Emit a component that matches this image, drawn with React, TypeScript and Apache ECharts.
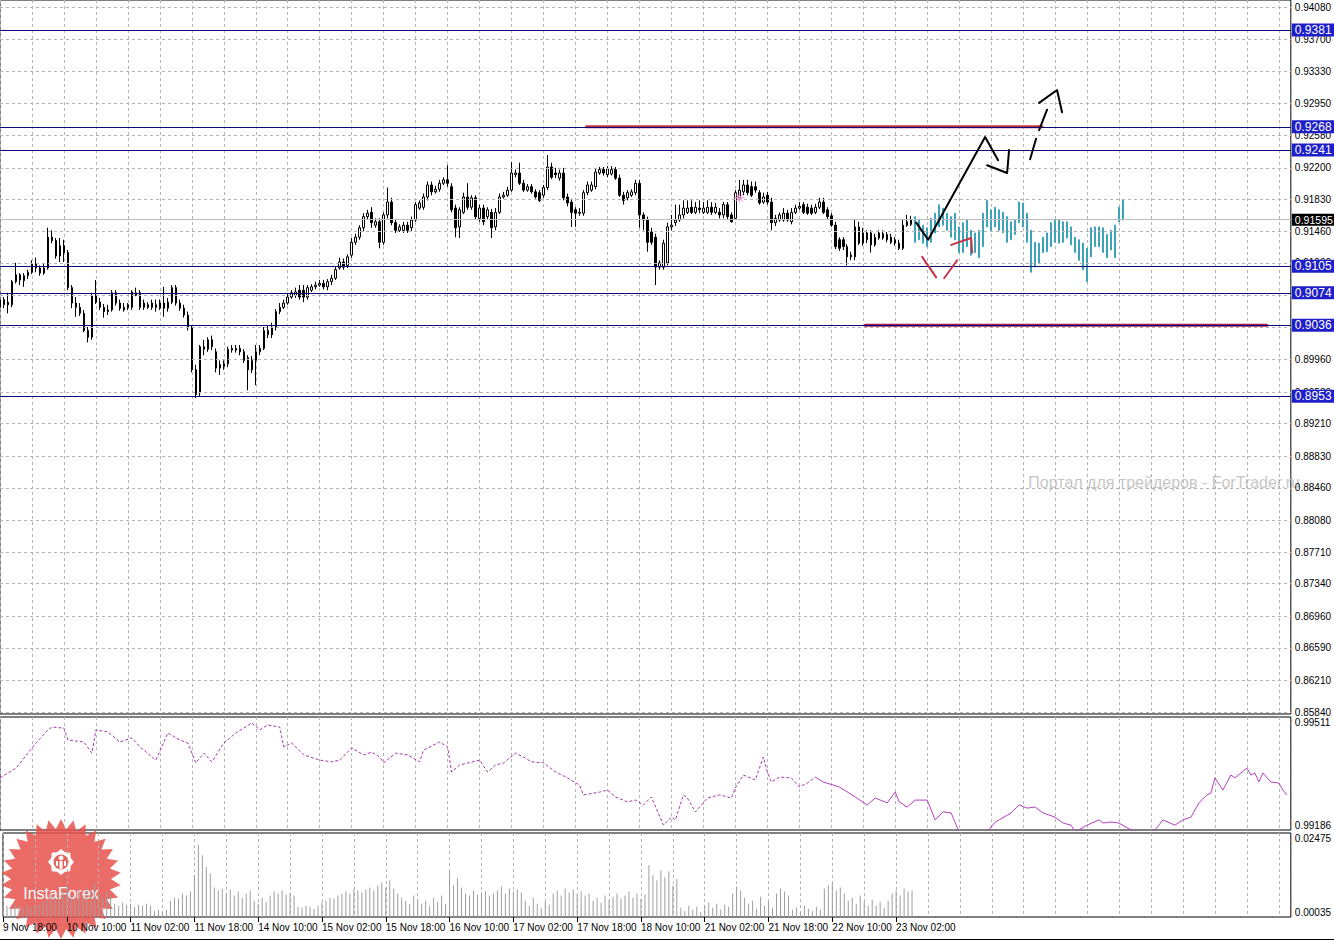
import { useEffect, useRef } from "react";
import * as echarts from "echarts";

const FONT = "'Liberation Sans', Arial, sans-serif";

// ---------- axes ----------
const SLOT_MAX = 323; // hourly slots across the plot width
const X_LABEL_STEP = 16;
const X_GRID_STEP = 8;
const X_LABELS = [
  "9 Nov 18:00", "10 Nov 10:00", "11 Nov 02:00", "11 Nov 18:00", "14 Nov 10:00",
  "15 Nov 02:00", "15 Nov 18:00", "16 Nov 10:00", "17 Nov 02:00", "17 Nov 18:00",
  "18 Nov 10:00", "21 Nov 02:00", "21 Nov 18:00", "22 Nov 10:00", "23 Nov 02:00",
];
const Y_TICKS = [
  0.9408, 0.937, 0.9333, 0.9295, 0.9258, 0.922, 0.9183, 0.9146, 0.9109, 0.9071, 0.9034, 0.8996,
  0.8958, 0.8921, 0.8883, 0.8846, 0.8808, 0.8771, 0.8734, 0.8696, 0.8659, 0.8621, 0.8584,
];
const Y_MIN = 0.85817;
const Y_MAX = 0.94162;

// ---------- levels ----------
const LEVELS = [0.9381, 0.9268, 0.9241, 0.9105, 0.9074, 0.9036, 0.8953];
const LAST_PRICE = 0.91595;

// ---------- candles: [open, high, low, close] ----------
const OHLC: number[][] = [
  [0.9057, 0.9077, 0.9046, 0.9066], [0.906, 0.9069, 0.9056, 0.9066], [0.9063, 0.9074, 0.905, 0.906], [0.906, 0.9089, 0.9057, 0.9087],
  [0.9087, 0.9109, 0.9085, 0.9095], [0.9095, 0.9097, 0.9083, 0.9089], [0.9088, 0.9097, 0.9081, 0.9094], [0.9094, 0.9101, 0.909, 0.9098],
  [0.9098, 0.9112, 0.9096, 0.9108], [0.9108, 0.9115, 0.9098, 0.9103], [0.9103, 0.9106, 0.9094, 0.9097], [0.9097, 0.9108, 0.9095, 0.9103],
  [0.9103, 0.915, 0.9101, 0.9139], [0.9139, 0.9147, 0.9132, 0.9135], [0.9135, 0.9138, 0.9114, 0.9117], [0.9117, 0.9138, 0.911, 0.9129],
  [0.9129, 0.9136, 0.911, 0.9121], [0.9121, 0.9124, 0.9077, 0.908], [0.908, 0.9083, 0.9056, 0.9062], [0.9062, 0.9069, 0.9046, 0.9057],
  [0.9057, 0.9062, 0.9047, 0.905], [0.905, 0.9054, 0.9028, 0.903], [0.903, 0.9034, 0.9016, 0.9022], [0.9022, 0.9074, 0.9019, 0.9071],
  [0.9071, 0.9089, 0.9061, 0.9063], [0.9063, 0.9068, 0.9054, 0.9057], [0.9057, 0.9061, 0.9045, 0.9052], [0.9052, 0.906, 0.9048, 0.9054],
  [0.9054, 0.9077, 0.9052, 0.9074], [0.9074, 0.9077, 0.9059, 0.9062], [0.9062, 0.9066, 0.9053, 0.9056], [0.9054, 0.9062, 0.9052, 0.9057],
  [0.906, 0.9062, 0.9054, 0.9057], [0.9057, 0.9077, 0.9054, 0.9075], [0.9071, 0.908, 0.907, 0.9074], [0.9074, 0.9077, 0.9054, 0.9057],
  [0.9062, 0.9066, 0.9054, 0.9057], [0.9057, 0.9063, 0.9055, 0.906], [0.9062, 0.9066, 0.9054, 0.9057], [0.906, 0.9066, 0.9052, 0.9057],
  [0.9056, 0.9066, 0.9054, 0.9062], [0.9062, 0.9081, 0.9046, 0.9056], [0.9056, 0.9068, 0.9052, 0.9063], [0.9063, 0.9083, 0.9061, 0.908],
  [0.908, 0.9083, 0.9059, 0.9062], [0.9062, 0.9066, 0.9053, 0.9056], [0.9056, 0.906, 0.9045, 0.9048], [0.9048, 0.9052, 0.903, 0.9033],
  [0.9033, 0.9036, 0.8981, 0.8984], [0.8984, 0.899, 0.8951, 0.8955], [0.8957, 0.9013, 0.8953, 0.9011], [0.9011, 0.9019, 0.9001, 0.9008],
  [0.9008, 0.9022, 0.9005, 0.9019], [0.9019, 0.9024, 0.9007, 0.9011], [0.9005, 0.9009, 0.8981, 0.8986], [0.899, 0.8995, 0.8978, 0.8986],
  [0.8988, 0.8995, 0.8984, 0.8991], [0.8991, 0.9011, 0.8987, 0.9008], [0.9009, 0.9013, 0.9004, 0.9007], [0.9007, 0.9013, 0.9004, 0.9009],
  [0.9009, 0.9013, 0.9001, 0.9005], [0.9005, 0.9008, 0.8992, 0.8995], [0.8998, 0.9001, 0.896, 0.8984], [0.8984, 0.9, 0.898, 0.8995],
  [0.8995, 0.9013, 0.8966, 0.9005], [0.9005, 0.9013, 0.9001, 0.9009], [0.9009, 0.9034, 0.9007, 0.903], [0.9025, 0.9035, 0.9021, 0.903],
  [0.9034, 0.9039, 0.9021, 0.9025], [0.9034, 0.9055, 0.903, 0.9052], [0.9052, 0.9062, 0.9049, 0.9057], [0.9057, 0.9066, 0.9055, 0.9062],
  [0.9062, 0.9074, 0.906, 0.9069], [0.9069, 0.9077, 0.9067, 0.9074], [0.9071, 0.908, 0.9068, 0.9075], [0.9077, 0.9083, 0.9066, 0.9069],
  [0.9077, 0.9083, 0.9063, 0.9069], [0.9069, 0.9083, 0.9066, 0.908], [0.9077, 0.9084, 0.9075, 0.9081], [0.9081, 0.9087, 0.9078, 0.9083],
  [0.9083, 0.9089, 0.9081, 0.9085], [0.9085, 0.9089, 0.9078, 0.9081], [0.9081, 0.909, 0.9077, 0.9087], [0.9087, 0.9095, 0.9083, 0.9091],
  [0.9091, 0.9104, 0.9089, 0.9101], [0.9103, 0.9115, 0.9101, 0.911], [0.911, 0.9114, 0.9101, 0.9104], [0.9106, 0.9119, 0.9103, 0.9116],
  [0.9118, 0.9138, 0.9115, 0.9133], [0.9133, 0.9143, 0.913, 0.9139], [0.9139, 0.9153, 0.9136, 0.915], [0.915, 0.9167, 0.9146, 0.9163],
  [0.9163, 0.9171, 0.9159, 0.9167], [0.9168, 0.9174, 0.915, 0.9156], [0.9153, 0.9161, 0.915, 0.9157], [0.9157, 0.9161, 0.9126, 0.9133],
  [0.9133, 0.9168, 0.913, 0.9165], [0.9165, 0.9197, 0.9161, 0.918], [0.918, 0.9185, 0.9153, 0.9156], [0.9156, 0.9159, 0.9144, 0.9147],
  [0.9147, 0.9154, 0.9145, 0.9151], [0.9147, 0.9157, 0.9144, 0.9153], [0.9153, 0.9157, 0.9144, 0.9147], [0.915, 0.9163, 0.9146, 0.9159],
  [0.9159, 0.918, 0.9157, 0.9177], [0.9173, 0.9182, 0.9171, 0.9179], [0.9174, 0.919, 0.9171, 0.9186], [0.9186, 0.9204, 0.9182, 0.92],
  [0.92, 0.9204, 0.9188, 0.9192], [0.9192, 0.9199, 0.919, 0.9195], [0.9195, 0.9206, 0.9192, 0.9202], [0.9202, 0.9209, 0.92, 0.9206],
  [0.9206, 0.9223, 0.9198, 0.9202], [0.9198, 0.9202, 0.9168, 0.9171], [0.9173, 0.9177, 0.9139, 0.915], [0.9151, 0.9174, 0.9138, 0.9171],
  [0.9168, 0.9191, 0.9166, 0.9186], [0.9186, 0.9202, 0.9171, 0.9174], [0.9174, 0.9188, 0.9171, 0.9185], [0.9185, 0.9188, 0.9159, 0.9163],
  [0.9161, 0.9177, 0.9157, 0.9173], [0.9173, 0.9177, 0.9153, 0.9157], [0.9163, 0.9174, 0.9159, 0.9171], [0.9168, 0.9172, 0.9138, 0.915],
  [0.9151, 0.9173, 0.9147, 0.9168], [0.9168, 0.919, 0.9166, 0.9186], [0.9186, 0.9192, 0.9184, 0.9188], [0.9188, 0.9198, 0.9186, 0.9194],
  [0.9194, 0.9227, 0.9192, 0.9214], [0.9212, 0.9218, 0.9209, 0.9214], [0.9214, 0.9226, 0.92, 0.9202], [0.9202, 0.9206, 0.9192, 0.9194],
  [0.9194, 0.9201, 0.9192, 0.9198], [0.9198, 0.9201, 0.919, 0.9192], [0.9192, 0.9195, 0.9184, 0.9186], [0.9191, 0.9194, 0.918, 0.9182],
  [0.9188, 0.92, 0.9185, 0.9197], [0.9197, 0.9235, 0.9194, 0.9221], [0.9221, 0.9226, 0.9207, 0.9209], [0.9214, 0.922, 0.9208, 0.9212],
  [0.9208, 0.9218, 0.9205, 0.9214], [0.9214, 0.922, 0.9182, 0.9185], [0.9186, 0.919, 0.9175, 0.9179], [0.918, 0.9184, 0.9151, 0.9168],
  [0.9171, 0.9174, 0.9151, 0.9167], [0.9167, 0.9173, 0.9164, 0.9168], [0.9167, 0.9194, 0.9164, 0.9191], [0.9191, 0.9204, 0.9188, 0.92],
  [0.9194, 0.9204, 0.9192, 0.92], [0.9198, 0.9219, 0.9195, 0.9215], [0.9214, 0.9221, 0.9212, 0.9218], [0.9218, 0.9221, 0.9211, 0.9214],
  [0.9212, 0.9222, 0.9209, 0.9219], [0.9213, 0.9222, 0.9211, 0.9218], [0.9218, 0.9221, 0.9206, 0.9208], [0.9208, 0.9212, 0.9186, 0.9188],
  [0.9188, 0.9192, 0.9177, 0.9182], [0.9185, 0.9194, 0.9182, 0.9191], [0.9188, 0.9195, 0.9186, 0.9192], [0.9191, 0.9206, 0.9188, 0.9202],
  [0.9202, 0.9206, 0.915, 0.9165], [0.9165, 0.9168, 0.9147, 0.9159], [0.9159, 0.9163, 0.9122, 0.9133], [0.9145, 0.915, 0.913, 0.9133],
  [0.9139, 0.9143, 0.9083, 0.9104], [0.9104, 0.9112, 0.9101, 0.9109], [0.9104, 0.9136, 0.9101, 0.9132], [0.9109, 0.9156, 0.9106, 0.9151],
  [0.9151, 0.9165, 0.9147, 0.9153], [0.9156, 0.9177, 0.9152, 0.9159], [0.9159, 0.9177, 0.9157, 0.9165], [0.9165, 0.9182, 0.9161, 0.9173],
  [0.9168, 0.9182, 0.9166, 0.9173], [0.9174, 0.9182, 0.9166, 0.9168], [0.9168, 0.918, 0.9166, 0.9174], [0.9173, 0.9182, 0.9167, 0.9171],
  [0.9168, 0.918, 0.9166, 0.9173], [0.9168, 0.9182, 0.9166, 0.9174], [0.9174, 0.918, 0.9165, 0.9168], [0.9168, 0.9179, 0.9166, 0.9174],
  [0.9168, 0.9173, 0.9161, 0.9165], [0.9165, 0.918, 0.9161, 0.9177], [0.9177, 0.918, 0.9159, 0.9163], [0.9165, 0.9168, 0.9156, 0.9157],
  [0.9161, 0.9194, 0.9159, 0.9191], [0.9185, 0.9206, 0.9182, 0.9194], [0.9192, 0.9206, 0.9188, 0.92], [0.92, 0.9206, 0.9188, 0.9191],
  [0.9198, 0.9204, 0.9186, 0.9188], [0.9198, 0.9204, 0.9191, 0.9194], [0.9191, 0.9194, 0.9177, 0.9179], [0.918, 0.9191, 0.9178, 0.9186],
  [0.9188, 0.9192, 0.9177, 0.918], [0.918, 0.9185, 0.9147, 0.9156], [0.9156, 0.9165, 0.9152, 0.9161], [0.9159, 0.9168, 0.9157, 0.9165],
  [0.9159, 0.9173, 0.9157, 0.9167], [0.9167, 0.9171, 0.9157, 0.9159], [0.9157, 0.9173, 0.9154, 0.9168], [0.9168, 0.9177, 0.9166, 0.9173],
  [0.9173, 0.918, 0.9171, 0.9175], [0.9177, 0.918, 0.9166, 0.9168], [0.9174, 0.9178, 0.9165, 0.9167], [0.9173, 0.9177, 0.9165, 0.9167],
  [0.9168, 0.9178, 0.9166, 0.9174], [0.9174, 0.9185, 0.9172, 0.918], [0.918, 0.9185, 0.9166, 0.9168], [0.9171, 0.9174, 0.916, 0.9163],
  [0.9164, 0.9167, 0.9151, 0.9153], [0.9153, 0.9157, 0.9125, 0.9128], [0.9136, 0.9139, 0.9123, 0.9126], [0.9136, 0.9139, 0.9124, 0.9128],
  [0.9128, 0.9131, 0.9106, 0.9116], [0.9118, 0.9122, 0.9112, 0.9116], [0.9116, 0.9159, 0.9112, 0.9151], [0.9151, 0.9157, 0.913, 0.9132],
  [0.9132, 0.915, 0.9129, 0.9144], [0.9144, 0.9147, 0.9132, 0.9136], [0.9144, 0.9147, 0.9121, 0.913], [0.913, 0.9143, 0.9128, 0.9139],
  [0.9138, 0.9147, 0.9136, 0.9144], [0.9138, 0.9147, 0.9136, 0.9143], [0.9142, 0.9145, 0.9133, 0.9136], [0.9139, 0.9143, 0.9131, 0.9133],
  [0.9136, 0.9139, 0.9129, 0.9132], [0.9132, 0.9136, 0.9124, 0.9126], [0.9126, 0.9159, 0.9124, 0.9153], [0.9153, 0.9165, 0.9151, 0.9157],
  [0.9154, 0.9164, 0.9152, 0.91595],
];

// ---------- forecast bars (teal): [high, low] ----------
const FORECAST_START = 229;
const FORECAST_HL: number[][] = [
  [0.9163, 0.9133], [0.9159, 0.9136], [0.9153, 0.9132], [0.915, 0.9128], [0.9161, 0.9133], [0.9167, 0.9144], [0.9177, 0.9151],
  [0.9173, 0.9153], [0.9167, 0.9147], [0.9163, 0.9139], [0.9167, 0.9136], [0.9151, 0.9121], [0.9156, 0.9121], [0.9159, 0.9128],
  [0.9147, 0.9118], [0.9144, 0.9121], [0.9147, 0.9115], [0.9167, 0.9128], [0.9182, 0.9151], [0.9171, 0.9147], [0.9174, 0.9151],
  [0.9171, 0.9147], [0.9168, 0.9144], [0.9163, 0.9133], [0.9157, 0.9136], [0.9159, 0.9142], [0.918, 0.9156], [0.9179, 0.9151],
  [0.9167, 0.9133], [0.9147, 0.9098], [0.9133, 0.9104], [0.9132, 0.9109], [0.9139, 0.9121], [0.9144, 0.9122], [0.9156, 0.9128],
  [0.916, 0.9133], [0.9159, 0.9132], [0.9157, 0.9133], [0.9157, 0.9138], [0.9151, 0.913], [0.9139, 0.9121], [0.9136, 0.9112],
  [0.9132, 0.9101], [0.9126, 0.9087], [0.915, 0.9116], [0.9151, 0.9128], [0.9151, 0.9128], [0.915, 0.9121], [0.9142, 0.9115],
  [0.9147, 0.9124], [0.9153, 0.9115], [0.9174, 0.9157], [0.9182, 0.9159],
];

// ---------- hand-drawn annotations: [slot, price] ----------
const RED_TOP = [[146.75, 0.9268], [260.75, 0.9268]];
const RED_BOTTOM = [[216.5, 0.9036], [317, 0.9036]];
const BLACK_STROKES = [
  [[229.25, 0.9156], [232.25, 0.9136], [246.5, 0.9256], [249.75, 0.9229]],
  [[247, 0.9223], [252, 0.9214], [252.5, 0.9241]],
  [[257.75, 0.923], [259.25, 0.9254]],
  [[260, 0.9264], [262, 0.9288]],
  [[260, 0.9296], [264.5, 0.9311], [265.75, 0.9285]],
];
const RED_STROKES = [
  [[230.75, 0.9116], [234.25, 0.9092]],
  [[236.25, 0.9091], [239.5, 0.9112]],
  [[238, 0.913], [243, 0.9138], [243.25, 0.9121]],
];
const STAR_POINT = [185, 0.9185];

// ---------- indicator pane ----------
const IND_MIN = 0.99186;
const IND_MAX = 0.99511;
const IND_DOTTED_END = 204;
const INDICATOR: number[][] = [
  [0, 0.99336], [4, 0.99364], [7, 0.99407], [9, 0.99436], [12, 0.99474], [13, 0.99482], [16, 0.99479], [17, 0.99445],
  [21, 0.99439], [23, 0.99407], [24, 0.99474], [27, 0.99468], [30, 0.99439], [33, 0.99451], [35, 0.99425], [39, 0.99387],
  [42, 0.99465], [45, 0.99445], [47, 0.99436], [49, 0.99379], [51, 0.99407], [53, 0.99382], [56, 0.99436], [59, 0.99465],
  [63, 0.99494], [65, 0.99474], [67, 0.99488], [70, 0.99482], [71, 0.99425], [73, 0.99436], [76, 0.99402], [80, 0.99387],
  [83, 0.99382], [85, 0.99387], [88, 0.99422], [91, 0.99402], [93, 0.9941], [95, 0.99396], [96, 0.99379], [99, 0.99407],
  [102, 0.99402], [105, 0.99382], [106, 0.99416], [110, 0.99439], [112, 0.99425], [113, 0.99353], [115, 0.99373], [120, 0.99387],
  [122, 0.99353], [124, 0.99373], [126, 0.99379], [129, 0.99407], [131, 0.99396], [133, 0.99382], [136, 0.99379], [139, 0.99353],
  [142, 0.99336], [145, 0.99315], [146, 0.99287], [150, 0.99295], [152, 0.99301], [154, 0.99281], [157, 0.99267], [159, 0.99272],
  [161, 0.99258], [163, 0.99281], [166, 0.992], [168, 0.99223], [169, 0.99215], [171, 0.99287], [172, 0.99278], [174, 0.99238],
  [177, 0.99278], [180, 0.99287], [183, 0.99278], [184, 0.99307], [186, 0.99344], [189, 0.9933], [191, 0.99396], [192, 0.99353],
  [193, 0.99324], [195, 0.99338], [198, 0.99336], [200, 0.9931], [202, 0.99321], [204, 0.99338], [206, 0.99324], [210, 0.9931],
  [214, 0.99281], [217, 0.99258], [219, 0.99278], [222, 0.99264], [224, 0.99295], [225, 0.99267], [227, 0.99252], [229, 0.99272],
  [232, 0.99272], [234, 0.99215], [236, 0.99238], [238, 0.99235], [240, 0.9918], [243, 0.99169], [247, 0.9918], [249, 0.99209],
  [250, 0.99215], [253, 0.99235], [255, 0.99258], [257, 0.99249], [259, 0.99252], [261, 0.99235], [264, 0.99223], [266, 0.99206],
  [268, 0.992], [269, 0.9918], [272, 0.992], [275, 0.99215], [276, 0.99206], [278, 0.99209], [280, 0.99206], [283, 0.99186],
  [287, 0.9918], [289, 0.99186], [291, 0.99215], [294, 0.992], [296, 0.99215], [298, 0.99223], [300, 0.99264], [302, 0.99287],
  [303, 0.99292], [304, 0.99336], [306, 0.99301], [308, 0.99344], [309, 0.99336], [312, 0.99364], [313, 0.99344], [314, 0.9935],
  [315, 0.99324], [316, 0.9935], [318, 0.99324], [320, 0.99321], [321, 0.99301], [322, 0.99287],
];

// ---------- volume pane ----------
const VOL_MIN = 0;
const VOL_MAX = 0.02475;
const VOL_LABELS = ["0.02475", "0.00035"];
const VOLUME = [
  0.0027, 0.0033, 0.003, 0.0039, 0.0033, 0.0027, 0.0036, 0.003, 0.0033, 0.0039,
  0.0045, 0.0051, 0.0069, 0.0057, 0.0063, 0.0078, 0.0093, 0.0069, 0.0057, 0.0081, 0.0063, 0.0087, 0.0075, 0.0099, 0.0069, 0.0057, 0.0078, 0.0063,
  0.0039, 0.0033, 0.0042, 0.0036, 0.0039, 0.003, 0.0036, 0.0033, 0.0039, 0.0033,
  0.0018, 0.0021, 0.0015, 0.0021,
  0.0048, 0.0057, 0.0054, 0.0069, 0.0063, 0.0075,
  0.0123, 0.0212, 0.0182, 0.0147, 0.0129,
  0.0087, 0.0078, 0.0084, 0.0069, 0.0081,
  0.0063, 0.0075, 0.0057, 0.0069, 0.0078,
  0.0048, 0.0039, 0.0057, 0.0045,
  0.0063, 0.0075, 0.0069, 0.0078, 0.0066, 0.0072, 0.0063,
  0.003, 0.0027, 0.0033, 0.003, 0.0024, 0.0033,
  0.0042, 0.0048, 0.0057, 0.0054, 0.0063, 0.0069,
  0.0075, 0.0069, 0.0081, 0.0078, 0.0072,
  0.0081, 0.0087, 0.0078, 0.0093, 0.0102, 0.0087, 0.0108,
  0.0084, 0.0069, 0.0057, 0.0048, 0.0039, 0.0063, 0.0051,
  0.0039, 0.0048, 0.0033, 0.0057, 0.0045, 0.0063, 0.0039,
  0.0135, 0.0093, 0.0114, 0.0087,
  0.0069, 0.0063, 0.0078, 0.0066, 0.0072, 0.0075, 0.0063, 0.0069,
  0.0078, 0.009, 0.0069, 0.0084, 0.0075, 0.0081, 0.0072,
  0.0048, 0.0033, 0.0057, 0.0039, 0.0027, 0.0045, 0.0036,
  0.0069, 0.0078, 0.0063, 0.0084, 0.0072, 0.0081, 0.0066, 0.0075, 0.0063, 0.0069,
  0.0048, 0.0057, 0.0042, 0.0063, 0.0051, 0.006, 0.0069, 0.0054,
  0.0063, 0.0075, 0.0057, 0.0069, 0.0054, 0.0066,
  0.0153, 0.0123, 0.0108, 0.0138, 0.0117,
  0.0135, 0.0093, 0.0111,
  0.0027, 0.0018, 0.0033, 0.0021, 0.003, 0.0015,
  0.0033, 0.0042, 0.0027, 0.0039, 0.0021, 0.0036, 0.003,
  0.0069, 0.009, 0.0078, 0.0057,
  0.0039, 0.0048, 0.0024, 0.006, 0.0033, 0.0045, 0.0027,
  0.0069, 0.0084, 0.0075, 0.0063,
  0.0021, 0.0027, 0.0015, 0.0033, 0.0024, 0.0018, 0.003, 0.0021,
  0.0084, 0.0093, 0.0099, 0.0078, 0.0087, 0.0069,
  0.0048, 0.0057, 0.0039, 0.0063, 0.0045, 0.0033, 0.0051,
  0.0033, 0.0045, 0.0027, 0.0048,
  0.0069, 0.0078, 0.0063, 0.0084, 0.0075, 0.0078,
];

const WATERMARK = "Портал для трейдеров - ForTrader.ru";
const LOGO_TEXT = "InstaForex";

function starPoints(cx: number, cy: number, rOut: number, rIn: number, n: number) {
  const pts: number[][] = [];
  for (let i = 0; i < n * 2; i++) {
    const r = i % 2 === 0 ? rOut : rIn;
    const a = (Math.PI * i) / n - Math.PI / 2;
    pts.push([cx + r * Math.cos(a), cy + r * Math.sin(a)]);
  }
  return pts;
}

function buildOption(): any {
  const gridDash = { color: "#b4b4b4", type: [3, 3] as any, width: 1 };
  const xCommon = {
    type: "value",
    min: 0,
    max: SLOT_MAX,
    interval: X_GRID_STEP,
    axisLine: { show: false },
    axisTick: { show: false },
    axisLabel: { show: false },
    splitLine: { show: true, lineStyle: gridDash },
  };
  const xLabelValues = X_LABELS.map((_, i) => i * X_LABEL_STEP);
  const lineSeries = (data: number[][], color: string, width: number, z = 5) => ({
    type: "line",
    xAxisIndex: 0,
    yAxisIndex: 0,
    data,
    symbol: "none",
    silent: true,
    z,
    lineStyle: { color, width, cap: "round", join: "round" },
  });
  const idxSplit = INDICATOR.findIndex((p) => p[0] === IND_DOTTED_END);

  const sideLabel = (text: string, bg: string, size: number) => ({
    show: true,
    position: "end",
    distance: 1,
    formatter: text,
    color: "#fff",
    backgroundColor: bg,
    padding: [1, 3, 0, 3],
    fontSize: size,
    fontFamily: FONT,
  });

  const logoCx = 61;
  const logoCy = 879;

  return {
    animation: false,
    backgroundColor: "#ffffff",
    textStyle: { fontFamily: FONT },
    grid: [
      { left: 0, top: 0, width: 1292, height: 714, show: true, borderColor: "#000", borderWidth: 1 },
      { left: 0, top: 717, width: 1292, height: 113, show: true, borderColor: "#000", borderWidth: 1 },
      { left: 0, top: 833, width: 1292, height: 84, show: true, borderColor: "#000", borderWidth: 1 },
    ],
    xAxis: [
      { ...xCommon, gridIndex: 0 },
      { ...xCommon, gridIndex: 1 },
      { ...xCommon, gridIndex: 2 },
      {
        type: "value",
        gridIndex: 2,
        min: 0,
        max: SLOT_MAX,
        position: "bottom",
        axisLine: { show: false },
        splitLine: { show: false },
        axisTick: { show: true, customValues: xLabelValues, length: 5, lineStyle: { color: "#000" } },
        axisLabel: {
          show: true,
          customValues: xLabelValues,
          formatter: (v: number) => X_LABELS[Math.round(v / X_LABEL_STEP)] ?? "",
          align: "left",
          margin: 5,
          fontSize: 10,
          color: "#000",
          fontFamily: FONT,
        },
      },
    ],
    yAxis: [
      {
        type: "value",
        gridIndex: 0,
        position: "right",
        min: Y_MIN,
        max: Y_MAX,
        axisLine: { show: false },
        splitLine: { show: false },
        axisTick: { show: true, customValues: Y_TICKS, length: 3, lineStyle: { color: "#000" } },
        axisLabel: {
          customValues: Y_TICKS,
          formatter: (v: number) => v.toFixed(5),
          margin: 4,
          fontSize: 10,
          color: "#000",
          fontFamily: FONT,
        },
      },
      {
        type: "value", gridIndex: 1, position: "right", min: IND_MIN, max: IND_MAX,
        axisLine: { show: false }, axisTick: { show: false }, splitLine: { show: false },
        axisLabel: { customValues: [IND_MAX], formatter: (v: number) => v.toFixed(5), verticalAlign: "top", margin: 4, fontSize: 10, color: "#000", fontFamily: FONT },
      },
      {
        type: "value", gridIndex: 1, position: "right", min: IND_MIN, max: IND_MAX,
        axisLine: { show: false }, axisTick: { show: false }, splitLine: { show: false },
        axisLabel: { customValues: [IND_MIN], formatter: (v: number) => v.toFixed(5), verticalAlign: "bottom", margin: 4, fontSize: 10, color: "#000", fontFamily: FONT },
      },
      {
        type: "value", gridIndex: 2, position: "right", min: VOL_MIN, max: VOL_MAX,
        axisLine: { show: false }, axisTick: { show: false }, splitLine: { show: false },
        axisLabel: { customValues: [VOL_MAX], formatter: () => VOL_LABELS[0], verticalAlign: "top", margin: 4, fontSize: 10, color: "#000", fontFamily: FONT },
      },
      {
        type: "value", gridIndex: 2, position: "right", min: VOL_MIN, max: VOL_MAX,
        axisLine: { show: false }, axisTick: { show: false }, splitLine: { show: false },
        axisLabel: { customValues: [VOL_MIN], formatter: () => VOL_LABELS[1], verticalAlign: "bottom", margin: 4, fontSize: 10, color: "#000", fontFamily: FONT },
      },
    ],
    series: [
      {
        // forecast bars; also carries the horizontal price grid (drawn under the candles)
        type: "candlestick",
        xAxisIndex: 0,
        yAxisIndex: 0,
        silent: true,
        z: 2,
        barWidth: 2,
        data: FORECAST_HL.map((hl, i) => [FORECAST_START + i, hl[1], hl[0], hl[1], hl[0]]),
        encode: { x: 0, y: [1, 2, 3, 4] },
        itemStyle: {
          color: "#3ea3b9",
          color0: "#3ea3b9",
          borderColor: "#3ea3b9",
          borderColor0: "#3ea3b9",
          borderColorDoji: "#3ea3b9",
          borderWidth: 1,
        },
        markLine: {
          silent: true,
          precision: 6,
          symbol: ["none", "none"],
          label: { show: false },
          lineStyle: gridDash,
          data: Y_TICKS.map((v) => ({ yAxis: v })),
        },
      },
      {
        type: "candlestick",
        xAxisIndex: 0,
        yAxisIndex: 0,
        silent: true,
        z: 3,
        barWidth: 2,
        data: OHLC.map((c, i) => [i, c[0], c[3], c[2], c[1]]),
        encode: { x: 0, y: [1, 2, 3, 4] },
        itemStyle: {
          color: "#ffffff",
          color0: "#000000",
          borderColor: "#000000",
          borderColor0: "#000000",
          borderColorDoji: "#000000",
          borderWidth: 1,
        },
        markLine: {
          silent: true,
          precision: 6,
          symbol: ["none", "none"],
          data: [
            {
              yAxis: LAST_PRICE,
              lineStyle: { color: "#bdbdbd", width: 1, type: "solid" },
              label: sideLabel(LAST_PRICE.toFixed(5), "#000000", 10.5),
            },
            ...LEVELS.map((v) => ({
              yAxis: v,
              lineStyle: { color: "#0a0a78", width: 1, type: "solid" },
              label: sideLabel(v.toFixed(4), "#1f1fc9", 12),
            })),
          ],
        },
      },
      lineSeries(RED_TOP, "#c3313f", 3, 4),
      lineSeries(RED_BOTTOM, "#a8184c", 3, 4),
      ...BLACK_STROKES.map((s) => lineSeries(s, "#000000", 2)),
      ...RED_STROKES.map((s) => lineSeries(s, "#c83448", 2)),
      {
        type: "scatter",
        xAxisIndex: 0,
        yAxisIndex: 0,
        silent: true,
        z: 6,
        data: [STAR_POINT],
        symbol:
          "path://M50,0 L57,36 L85,15 L64,43 L100,50 L64,57 L85,85 L57,64 L50,100 L43,64 L15,85 L36,57 L0,50 L36,43 L15,15 L43,36 Z",
        symbolSize: 14,
        itemStyle: { color: "#e99bd2" },
      },
      {
        type: "line",
        xAxisIndex: 1,
        yAxisIndex: 1,
        data: INDICATOR.slice(0, idxSplit + 1),
        symbol: "none",
        silent: true,
        lineStyle: { color: "#a53aa8", width: 1, type: [3, 2] },
      },
      {
        type: "line",
        xAxisIndex: 1,
        yAxisIndex: 1,
        data: INDICATOR.slice(idxSplit),
        symbol: "none",
        silent: true,
        lineStyle: { color: "#b541c0", width: 1, type: "solid" },
      },
      {
        type: "bar",
        xAxisIndex: 2,
        yAxisIndex: 3,
        data: VOLUME.map((v, i) => [i, v]),
        barWidth: 1,
        silent: true,
        itemStyle: { color: "#9e9e9e" },
      },
    ],
    graphic: [
      {
        type: "text",
        x: 1300,
        y: 482,
        z: 0,
        silent: true,
        style: {
          text: WATERMARK,
          fill: "#c6c6c6",
          fontSize: 16,
          fontFamily: FONT,
          align: "right",
          verticalAlign: "middle",
        },
      },
      {
        type: "line",
        silent: true,
        shape: { x1: 0, y1: 939.5, x2: 1334, y2: 939.5 },
        style: { stroke: "#000", lineWidth: 1 },
      },
      {
        type: "group",
        silent: true,
        z: 100,
        children: [
          {
            type: "polygon",
            shape: { points: starPoints(logoCx, logoCy, 60, 50, 30) },
            style: { fill: "#e8524c", opacity: 0.85 },
          },
          {
            type: "polygon",
            shape: { points: starPoints(logoCx, logoCy - 17, 13, 10.5, 8) },
            style: { fill: "#ffffff" },
          },
          { type: "circle", shape: { cx: logoCx, cy: logoCy - 17, r: 7.5 }, style: { fill: "#e8625c" } },
          { type: "circle", shape: { cx: logoCx, cy: logoCy - 21, r: 2.4 }, style: { fill: "#ffffff" } },
          { type: "rect", shape: { x: logoCx - 1.5, y: logoCy - 18, width: 3, height: 8 }, style: { fill: "#ffffff" } },
          { type: "rect", shape: { x: logoCx - 5, y: logoCy - 18, width: 2, height: 5 }, style: { fill: "#ffffff" } },
          { type: "rect", shape: { x: logoCx + 3, y: logoCy - 18, width: 2, height: 5 }, style: { fill: "#ffffff" } },
          {
            type: "text",
            x: logoCx,
            y: logoCy + 14,
            style: {
              text: LOGO_TEXT,
              fill: "#ffffff",
              fontSize: 16,
              fontFamily: FONT,
              align: "center",
              verticalAlign: "middle",
            },
          },
        ],
      },
    ],
  };
}

export default function App() {
  const ref = useRef<HTMLDivElement>(null);
  useEffect(() => {
    if (!ref.current) return;
    const chart = echarts.init(ref.current, undefined, { renderer: "svg" });
    chart.setOption(buildOption());
    return () => chart.dispose();
  }, []);
  return (
    <div
      ref={ref}
      style={{ position: "absolute", left: 0, top: 0, width: 1334, height: 941, background: "#ffffff" }}
    />
  );
}
